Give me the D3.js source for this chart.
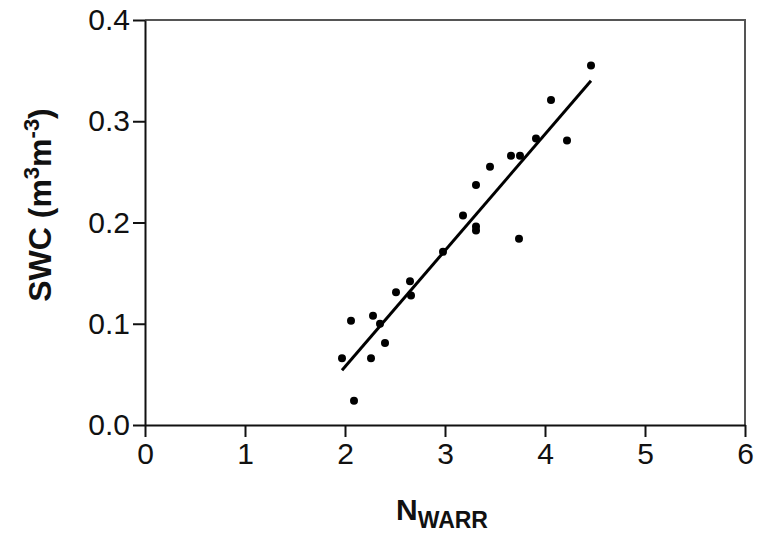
<!DOCTYPE html>
<html>
<head>
<meta charset="utf-8">
<script src="https://cdn.jsdelivr.net/npm/d3@7"></script>
<style>
  body { margin: 0; background: #fff; }
  text { font-family: "Liberation Sans", Arial, sans-serif; fill: #111; }
</style>
</head>
<body>
<div id="chart"></div>
<script>
// values
var nwarr = [1.97, 2.06, 2.09, 2.26, 2.28, 2.35, 2.40, 2.51, 2.65, 2.66, 2.98, 3.18,
             3.31, 3.31, 3.31, 3.45, 3.66, 3.75, 3.74, 3.91, 4.06, 4.22, 4.46];
var swc = [0.066, 0.103, 0.024, 0.066, 0.108, 0.100, 0.081, 0.131, 0.142, 0.128, 0.171, 0.207,
           0.196, 0.192, 0.237, 0.255, 0.266, 0.266, 0.184, 0.283, 0.321, 0.281, 0.355];
// regression line end points
var fitX = [1.97, 4.46];
var fitY = [0.054, 0.340];
var xTicks = [0, 1, 2, 3, 4, 5, 6];
var yTicks = [0, 0.1, 0.2, 0.3, 0.4];

var W = 760, H = 536;
var margin = {top: 20, right: 15, bottom: 111, left: 145};
var width = W - margin.left - margin.right,
    height = H - margin.top - margin.bottom;

var x = d3.scaleLinear().domain([0, 6]).range([0, width]);
var y = d3.scaleLinear().domain([0, 0.4]).range([height, 0]);

var svg = d3.select("#chart").append("svg")
    .attr("width", W)
    .attr("height", H)
  .append("g")
    .attr("transform", "translate(" + margin.left + "," + margin.top + ")");

// top and right frame
svg.append("path")
    .attr("d", "M0,0H" + width + "V" + height)
    .attr("fill", "none")
    .attr("stroke", "#555")
    .attr("stroke-width", 2);

// x axis
var gx = svg.append("g")
    .attr("transform", "translate(0," + height + ")")
    .call(d3.axisBottom(x).tickValues(xTicks).tickFormat(d3.format("d"))
      .tickSizeInner(12).tickSizeOuter(0).tickPadding(6));

// y axis
var gy = svg.append("g")
    .call(d3.axisLeft(y).tickValues(yTicks).tickFormat(d3.format(".1f"))
      .tickSizeInner(12).tickSizeOuter(0).tickPadding(3));

[gx, gy].forEach(function(g) {
  g.select(".domain").attr("stroke", "#111").attr("stroke-width", 2);
  g.selectAll(".tick line").attr("stroke", "#111").attr("stroke-width", 2);
  g.selectAll(".tick text").style("font-size", "30px").attr("fill", "#111");
});

// fit line
svg.append("line")
    .attr("x1", x(fitX[0])).attr("y1", y(fitY[0]))
    .attr("x2", x(fitX[1])).attr("y2", y(fitY[1]))
    .attr("stroke", "#000")
    .attr("stroke-width", 3);

// points
svg.selectAll("circle")
    .data(nwarr)
  .enter().append("circle")
    .attr("cx", function(d) { return x(d); })
    .attr("cy", function(d, i) { return y(swc[i]); })
    .attr("r", 4)
    .attr("fill", "#000");

// x title
var xt = svg.append("text")
    .attr("x", width / 2 - 3)
    .attr("y", height + 95)
    .attr("text-anchor", "middle")
    .style("font-weight", "bold")
    .style("font-size", "30px");
xt.append("tspan").text("N");
xt.append("tspan").attr("dy", 8).style("font-size", "23px").text("WARR");

// y title
var yt = svg.append("text")
    .attr("transform", "translate(-94," + 185 + ") rotate(-90)")
    .attr("text-anchor", "middle")
    .style("font-weight", "bold")
    .style("font-size", "32px");
yt.append("tspan").text("SWC (m");
yt.append("tspan").attr("dy", -12).style("font-size", "22px").text("3");
yt.append("tspan").attr("dy", 12).text("m");
yt.append("tspan").attr("dy", -12).style("font-size", "22px").text("-3");
yt.append("tspan").attr("dy", 12).text(")");
</script>
</body>
</html>
